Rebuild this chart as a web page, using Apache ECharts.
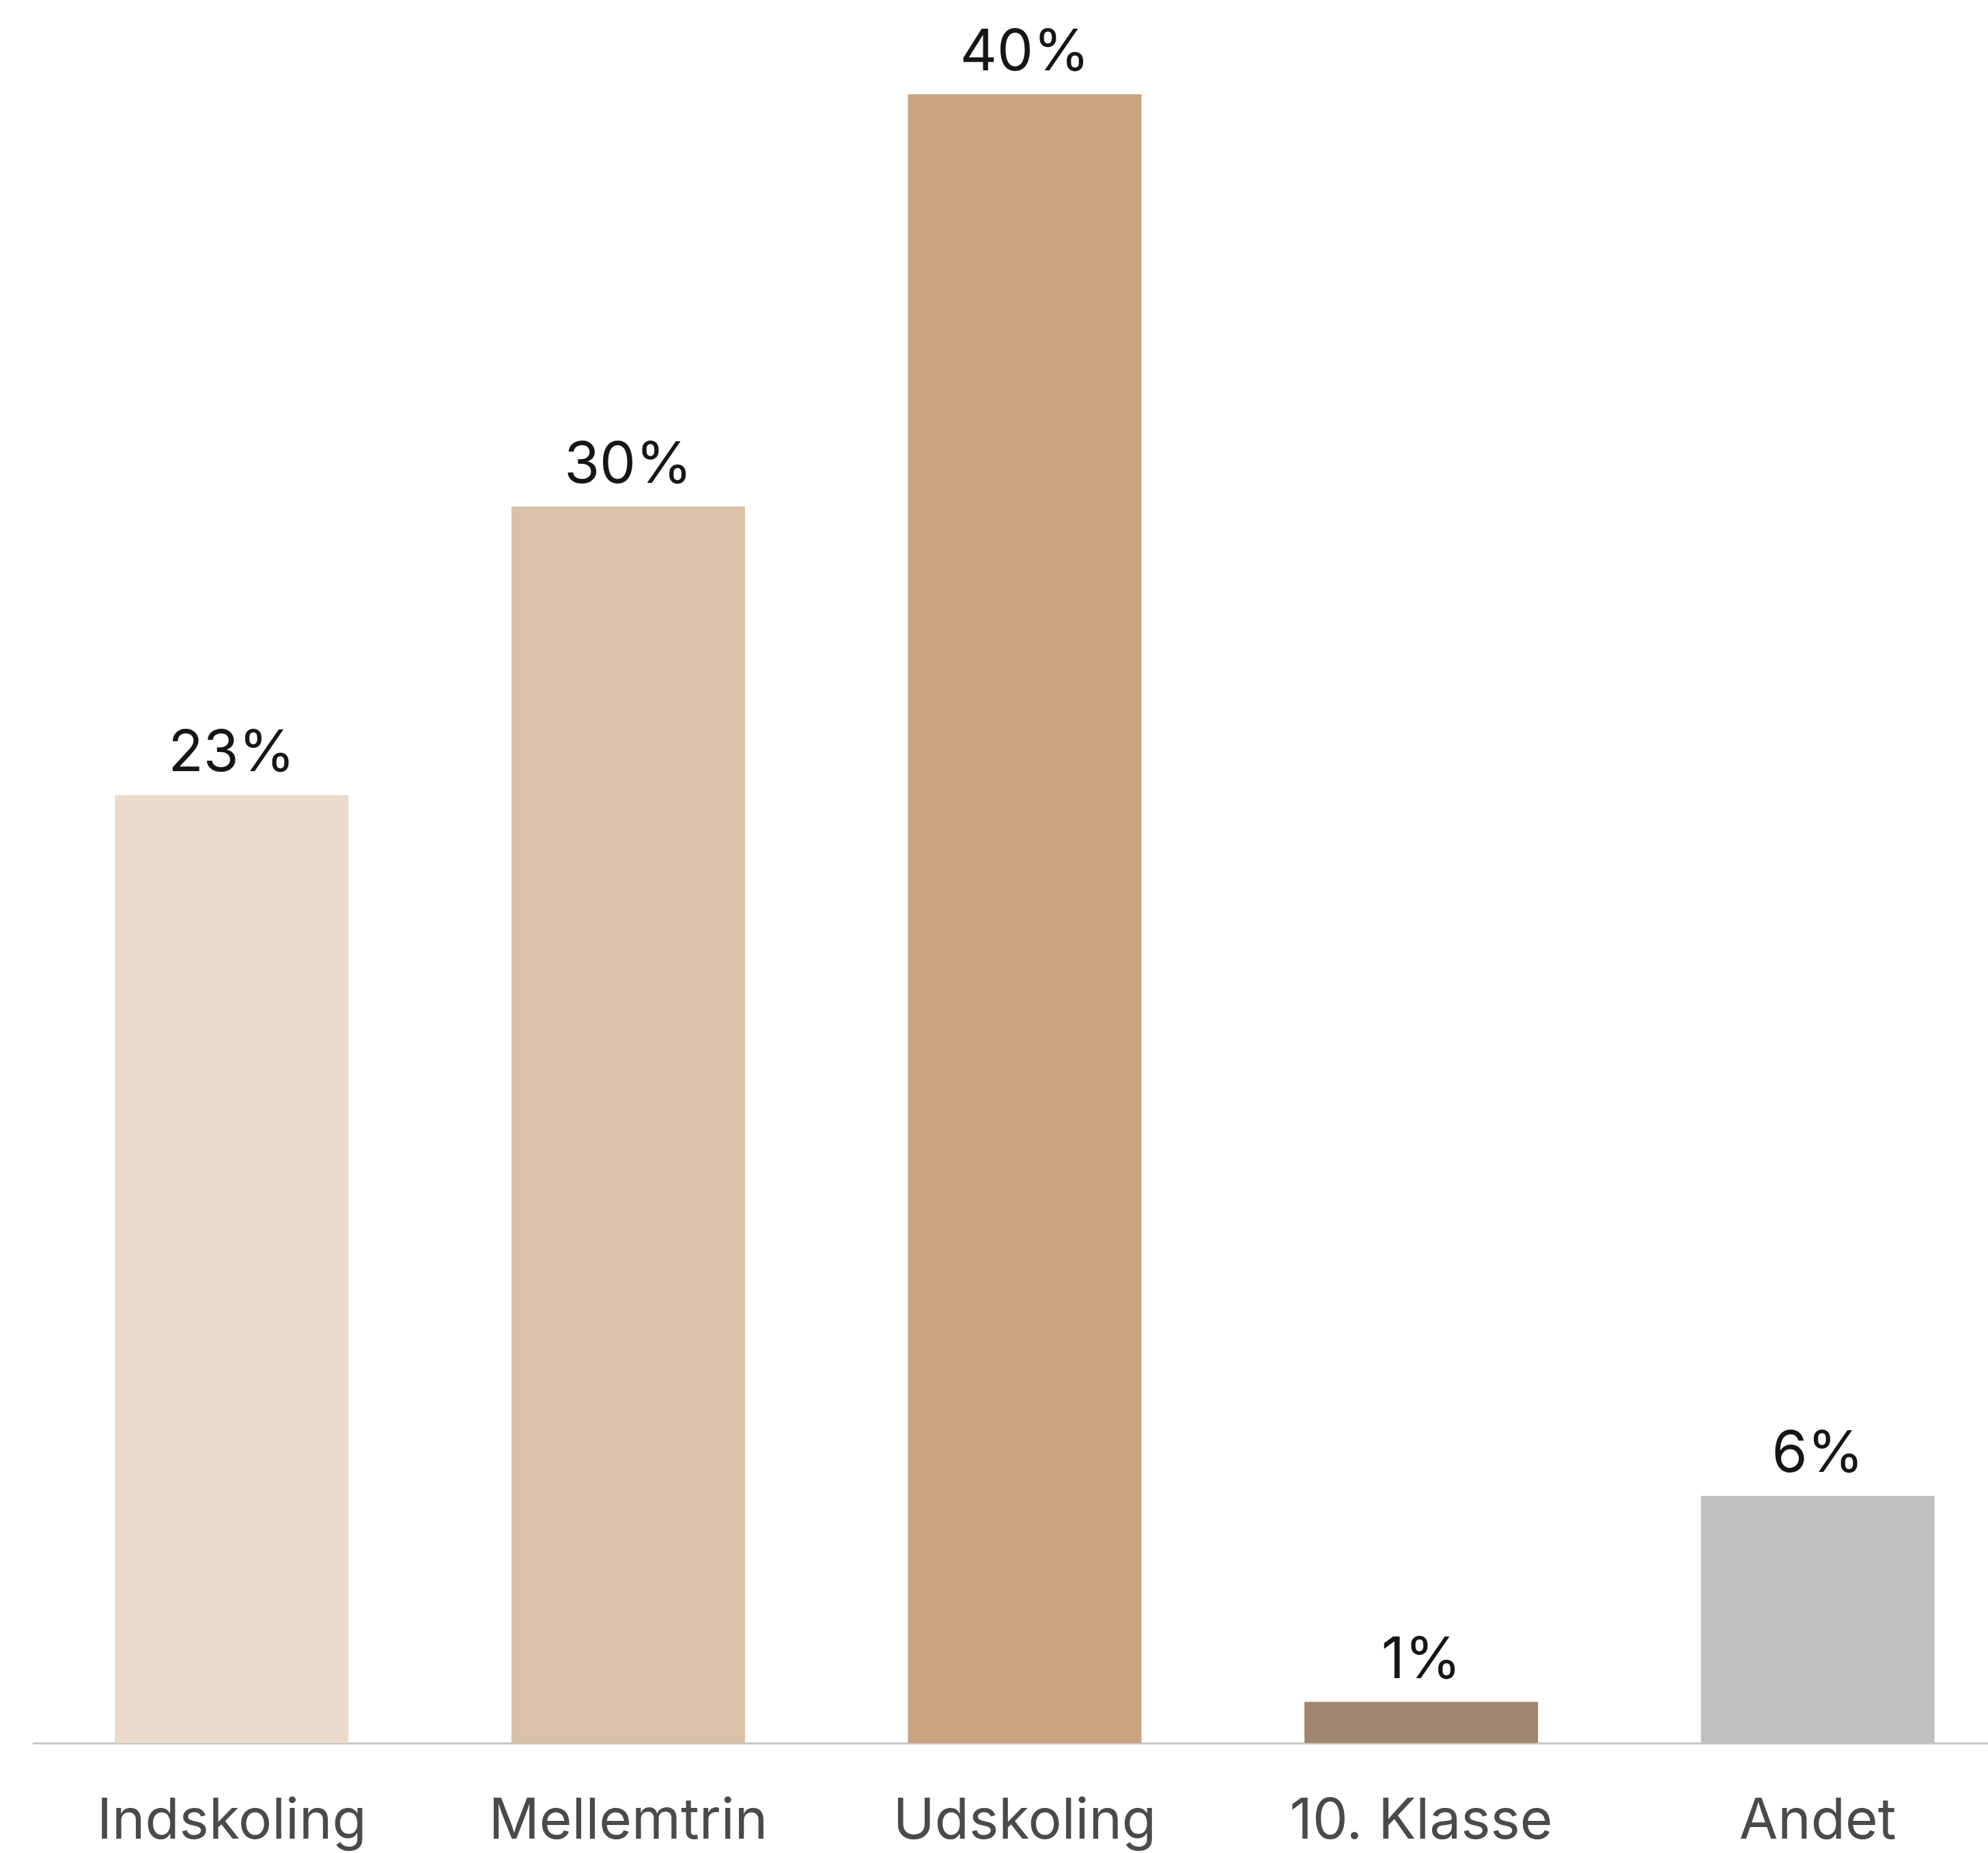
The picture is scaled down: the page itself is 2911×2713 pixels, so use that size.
<!DOCTYPE html>
<html>
<head>
<meta charset="utf-8">
<script src="https://cdn.jsdelivr.net/npm/echarts@6/dist/echarts.min.js"></script>
<style>
  html, body { margin: 0; padding: 0; background: #fff; overflow: hidden; }
  /* sidste kategori går ud over kanten i originalen, derfor er lærredet bredere end vinduet */
  #chart { width: 2952px; height: 2713px; }
</style>
</head>
<body>
<div id="chart"></div>
<script>
// kategorier og andele (%)
var categories = ['Indskoling', 'Mellemtrin', 'Udskoling', '10. Klasse', 'Andet'];
var values = [23, 30, 40, 1, 6];
var barColors = ['#e9dacb', '#dbc1a9', '#c9a27f', '#a0866e', '#c0c0c0'];

var chart = echarts.init(document.getElementById('chart'));

chart.setOption({
    animation: false,
    grid: {
        left: 49,
        right: 0,
        top: 138,
        bottom: 161
    },
    xAxis: {
        type: 'category',
        data: categories,
        axisTick: { show: false },
        axisLine: {
            lineStyle: { color: '#c8c8c8', width: 3 }
        },
        axisLabel: {
            margin: 74,
            color: '#4a4a4a',
            fontSize: 82,
            fontFamily: 'Inter, sans-serif'
        }
    },
    yAxis: {
        type: 'value',
        min: 0,
        max: 40,
        show: false,
        splitLine: { show: false }
    },
    series: [
        {
            type: 'bar',
            barWidth: 342,
            data: values.map(function (v, i) {
                return { value: v, itemStyle: { color: barColors[i] } };
            }),
            label: {
                show: true,
                position: 'top',
                distance: 18,
                formatter: '{c}%',
                color: '#161616',
                fontSize: 84,
                fontFamily: 'Inter, sans-serif'
            }
        }
    ]
});
</script>
</body>
</html>
